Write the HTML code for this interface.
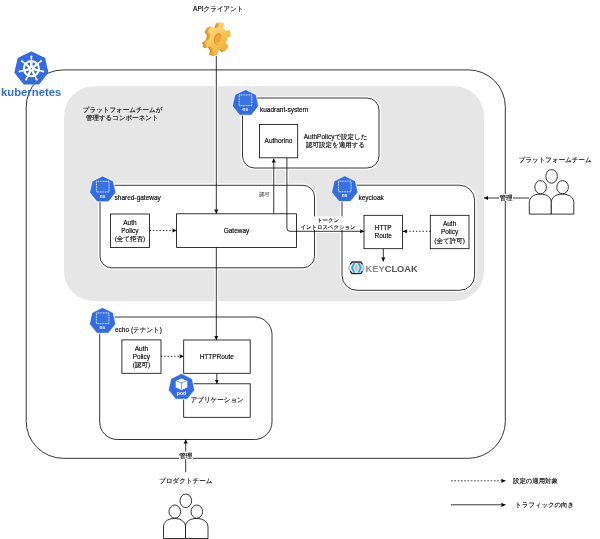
<!DOCTYPE html>
<html><head><meta charset="utf-8">
<style>
html,body{margin:0;padding:0;background:#fff;width:600px;height:539px;overflow:hidden}
svg{position:absolute;left:0;top:0;font-family:"Liberation Sans",sans-serif;will-change:transform}
text{font-family:"Liberation Sans",sans-serif;font-size:6.5px;fill:#000;stroke:#000;stroke-width:0.22px;stroke-opacity:0.6}
.c{text-anchor:middle}
.g{text-rendering:geometricPrecision}
.a{text-rendering:auto}
.ln{fill:none;stroke:#000;stroke-width:0.8}
.bx{fill:#fff;stroke:#000;stroke-width:0.8}
.halo{fill:none;stroke:#fff;stroke-width:3.6}
</style></head>
<body>
<svg width="600" height="539" viewBox="0 0 600 539">
<defs>
  <marker id="ah" viewBox="0 0 10 10" refX="10" refY="5" markerWidth="4.3" markerHeight="4.7" orient="auto-start-reverse" markerUnits="userSpaceOnUse" preserveAspectRatio="none">
    <path d="M0,0.5 L10,5 L0,9.5 L1.2,5 z" fill="#000"/>
  </marker>
  <g id="ns">
    <polygon points="0.00,-13.60 10.63,-8.48 13.26,3.03 5.90,12.25 -5.90,12.25 -13.26,3.03 -10.63,-8.48" fill="#fff" stroke="#fff" stroke-width="0.6" stroke-linejoin="round"/>
    <polygon points="0.00,-13.00 10.16,-8.11 12.67,2.89 5.64,11.71 -5.64,11.71 -12.67,2.89 -10.16,-8.11" fill="#326ce5" stroke="#326ce5" stroke-width="0.3" stroke-linejoin="round"/>
    <rect x="-6.3" y="-8.2" width="12.6" height="10.7" fill="#3a72e0" stroke="#fff" stroke-width="0.85" stroke-dasharray="1.05,0.6"/>
    <text x="-0.2" y="8.0" style="font-size:4.8px;font-weight:bold;fill:#fff;stroke:none;text-anchor:middle">ns</text>
  </g>
  <g id="people" fill="#fff" stroke="#000" stroke-width="0.8">
    <path d="M0,44.5 L0,33 C0,28 4,24.5 11,24.5 C18,24.5 22,28 22,33 L22,44.5 Z"/>
    <path d="M22,44.5 L22,33 C22,28 26,24.5 33,24.5 C40,24.5 44.5,28 44.5,33 L44.5,44.5 Z"/>
    <ellipse cx="22.3" cy="6.8" rx="5.8" ry="6.8"/>
    <ellipse cx="11.3" cy="17.6" rx="5.8" ry="6.6"/>
    <ellipse cx="33.3" cy="17.6" rx="5.8" ry="6.6"/>
  </g>
</defs>

<!-- API client -->
<text x="218.3" y="10.7" class="g c"><tspan class="a">API</tspan>クライアント</text>
<!-- gear -->
<defs>
 <linearGradient id="gg" x1="0" y1="0" x2="1" y2="1">
  <stop offset="0" stop-color="#ffe08a"/><stop offset="0.5" stop-color="#f7c553"/><stop offset="1" stop-color="#eca636"/>
 </linearGradient>
</defs>
<g transform="translate(218.4,38.6)">
<path transform="translate(-3.60,1.00) rotate(12) scale(0.86,1.16)" d="M-3.07,-9.73 L-2.73,-14.04 L2.73,-14.04 L3.07,-9.73 L6.89,-7.52 L10.79,-9.38 L13.52,-4.66 L9.96,-2.21 L9.96,2.21 L13.52,4.66 L10.79,9.38 L6.89,7.52 L3.07,9.73 L2.73,14.04 L-2.73,14.04 L-3.07,9.73 L-6.89,7.52 L-10.79,9.38 L-13.52,4.66 L-9.96,2.21 L-9.96,-2.21 L-13.52,-4.66 L-10.79,-9.38 L-6.89,-7.52 Z" fill="#d98a22"/>
<path transform="translate(-2.70,0.75) rotate(12) scale(0.86,1.16)" d="M-3.07,-9.73 L-2.73,-14.04 L2.73,-14.04 L3.07,-9.73 L6.89,-7.52 L10.79,-9.38 L13.52,-4.66 L9.96,-2.21 L9.96,2.21 L13.52,4.66 L10.79,9.38 L6.89,7.52 L3.07,9.73 L2.73,14.04 L-2.73,14.04 L-3.07,9.73 L-6.89,7.52 L-10.79,9.38 L-13.52,4.66 L-9.96,2.21 L-9.96,-2.21 L-13.52,-4.66 L-10.79,-9.38 L-6.89,-7.52 Z" fill="#e39a2c"/>
<path transform="translate(-1.80,0.50) rotate(12) scale(0.86,1.16)" d="M-3.07,-9.73 L-2.73,-14.04 L2.73,-14.04 L3.07,-9.73 L6.89,-7.52 L10.79,-9.38 L13.52,-4.66 L9.96,-2.21 L9.96,2.21 L13.52,4.66 L10.79,9.38 L6.89,7.52 L3.07,9.73 L2.73,14.04 L-2.73,14.04 L-3.07,9.73 L-6.89,7.52 L-10.79,9.38 L-13.52,4.66 L-9.96,2.21 L-9.96,-2.21 L-13.52,-4.66 L-10.79,-9.38 L-6.89,-7.52 Z" fill="#eaa533"/>
<path transform="translate(-0.90,0.25) rotate(12) scale(0.86,1.16)" d="M-3.07,-9.73 L-2.73,-14.04 L2.73,-14.04 L3.07,-9.73 L6.89,-7.52 L10.79,-9.38 L13.52,-4.66 L9.96,-2.21 L9.96,2.21 L13.52,4.66 L10.79,9.38 L6.89,7.52 L3.07,9.73 L2.73,14.04 L-2.73,14.04 L-3.07,9.73 L-6.89,7.52 L-10.79,9.38 L-13.52,4.66 L-9.96,2.21 L-9.96,-2.21 L-13.52,-4.66 L-10.79,-9.38 L-6.89,-7.52 Z" fill="#efb03c"/>
<path transform="rotate(12) scale(0.86,1.16)" d="M-3.07,-9.73 L-2.73,-14.04 L2.73,-14.04 L3.07,-9.73 L6.89,-7.52 L10.79,-9.38 L13.52,-4.66 L9.96,-2.21 L9.96,2.21 L13.52,4.66 L10.79,9.38 L6.89,7.52 L3.07,9.73 L2.73,14.04 L-2.73,14.04 L-3.07,9.73 L-6.89,7.52 L-10.79,9.38 L-13.52,4.66 L-9.96,2.21 L-9.96,-2.21 L-13.52,-4.66 L-10.79,-9.38 L-6.89,-7.52 Z" fill="url(#gg)"/>
<ellipse transform="rotate(14)" cx="-0.4" cy="0.4" rx="4.0" ry="5.9" fill="#df9530"/>
<ellipse transform="rotate(14)" cx="0.5" cy="0.9" rx="3.0" ry="4.8" fill="#f3bd4e"/>
<ellipse transform="rotate(14)" cx="-0.2" cy="0.1" rx="2.6" ry="4.3" fill="#e9a43a"/>
</g>

<!-- outer kubernetes rect -->
<rect x="26.2" y="69.9" width="479.1" height="388.4" rx="37" ry="37" class="ln"/>

<!-- gray platform area -->
<rect x="64" y="86.3" width="420" height="214.7" rx="30" ry="30" fill="#e6e6e6"/>
<text x="122.6" y="112" class="g c">プラットフォームチームが</text>
<text x="122.3" y="120.2" class="g c">管理するコンポーネント</text>

<!-- halos -->
<rect x="242.5" y="98" width="136.5" height="70" rx="12" ry="12" class="halo"/>
<rect x="100" y="185.3" width="214.5" height="82.5" rx="11.5" ry="11.5" class="halo"/>
<rect x="342" y="185.2" width="132.6" height="105.1" rx="15" ry="15" class="halo"/>
<path d="M216.3,84 L216.3,190 M273.75,160 L273.75,190 M286.9,160 L286.9,190 M216.3,262 L216.3,305 M310,231.3 L346,231.3" class="halo"/>
<!-- kuadrant-system -->
<rect x="242.5" y="98" width="136.5" height="70" rx="12" ry="12" class="bx"/>
<text x="260" y="111.9">kuadrant-system</text>
<rect x="259.4" y="124.4" width="38.3" height="33.4" class="bx"/>
<text x="278.5" y="143.4" class="c">Authorino</text>
<text x="335.6" y="139.4" class="g c"><tspan class="a">AuthPolicy</tspan>で設定した</text>
<text x="335.6" y="147.4" class="g c">認可設定を適用する</text>

<!-- shared-gateway -->
<rect x="100" y="185.3" width="214.5" height="82.5" rx="11.5" ry="11.5" class="bx"/>
<text x="114.6" y="200.4">shared-gateway</text>
<rect x="110.4" y="214" width="39" height="33.4" class="bx"/>
<text x="129.9" y="225.4" class="c">Auth</text>
<text x="129.9" y="233.2" class="c">Policy</text>
<text x="129.9" y="241.4" class="g c">(全て拒否)</text>
<rect x="176.6" y="213.8" width="119.9" height="33.6" class="bx"/>
<text x="236.5" y="232.9" class="c">Gateway</text>

<!-- keycloak -->
<rect x="342" y="185.2" width="132.6" height="105.1" rx="15" ry="15" class="bx"/>
<text x="358.5" y="199.9">keycloak</text>
<rect x="364" y="215.3" width="38.5" height="33.4" class="bx"/>
<text x="383.2" y="230.3" class="c">HTTP</text>
<text x="383.2" y="238.3" class="c">Route</text>
<rect x="430.3" y="215.3" width="38.7" height="33.4" class="bx"/>
<text x="449.6" y="225.7" class="c">Auth</text>
<text x="449.6" y="234.3" class="c">Policy</text>
<text x="449.6" y="243.1" class="g c">(全て許可)</text>
<!-- keycloak logo -->
<polygon points="348.4,267.8 351.8,261.6 361.2,261.6 364.2,267.8 361.2,274 351.8,274" fill="#ece4e2" stroke="#6a5e5c" stroke-width="0.5" stroke-linejoin="round"/>
<path d="M350.2,264.4 L352.1,262.1 L360.9,262.1 L362.4,264.4 M350.2,271.2 L352.1,273.5 L360.9,273.5 L362.4,271.2" fill="none" stroke="#231c1c" stroke-width="1.2" stroke-linejoin="round"/>
<polygon points="356.4,263.8 358.2,267.8 356.4,271.8 354.6,267.8" fill="#cbb9b5"/>
<path d="M354.4,262.9 L352.1,267.8 L354.4,272.7 M358.4,262.9 L360.7,267.8 L358.4,272.7" fill="none" stroke="#0bb6ee" stroke-width="1.9"/>
<text x="365.6" y="271.8" style="font-size:9.3px;font-weight:bold;fill:#8a8a8a;stroke:none">KEY<tspan style="fill:#555">CLOAK</tspan></text>

<!-- echo -->
<rect x="99.7" y="317" width="172.3" height="122.5" rx="17.5" ry="17.5" class="bx"/>
<text class="g" x="115" y="331.9"><tspan class="a">echo (</tspan>テナント<tspan class="a">)</tspan></text>
<rect x="121.9" y="339.9" width="39.1" height="33.4" class="bx"/>
<text x="141.4" y="350.8" class="c">Auth</text>
<text x="141.4" y="358.7" class="c">Policy</text>
<text x="141.4" y="367.2" class="g c">(認可)</text>
<rect x="183.7" y="340" width="66.5" height="33.3" class="bx"/>
<text x="216.8" y="358.7" class="c">HTTPRoute</text>
<rect x="183.7" y="383.8" width="66.5" height="33.5" class="bx"/>
<text x="217.2" y="402.4" class="g c">アプリケーション</text>

<!-- arrows -->
<path d="M216.3,56 L216.3,213.5" class="ln" marker-end="url(#ah)"/>
<path d="M216.3,247.4 L216.3,340" class="ln" marker-end="url(#ah)"/>
<path d="M273.75,213.8 L273.75,158.5" class="ln" marker-end="url(#ah)"/>
<path d="M286.9,158 L286.9,228.3 Q286.9,231.3 289.9,231.3 L364.2,231.3" class="ln" marker-end="url(#ah)"/>
<path d="M149.6,230.5 L176.6,230.5" class="ln" stroke-dasharray="1.3,2" style="stroke-width:0.9" marker-end="url(#ah)"/>
<path d="M430.5,231.3 L402.8,231.3" class="ln" stroke-dasharray="1.3,2" style="stroke-width:0.9" marker-end="url(#ah)"/>
<path d="M383.3,248.7 L383.3,261.5" class="ln" marker-end="url(#ah)"/>
<path d="M161,356.3 L183.7,356.3" class="ln" stroke-dasharray="1.3,2" style="stroke-width:0.9" marker-end="url(#ah)"/>
<path d="M216.8,373.3 L216.8,383.8" class="ln" marker-end="url(#ah)"/>
<path d="M185.7,472.3 L185.7,439.5" class="ln" marker-end="url(#ah)"/>
<path d="M529,198 L484,198" class="ln" marker-end="url(#ah)"/>

<!-- labels with white bg -->
<text x="264.5" y="196.4" class="g c" style="font-size:5.3px;stroke:none">認可</text>
<rect x="300" y="216.5" width="56" height="13.5" fill="#fff"/>
<text x="328" y="222.1" class="g c" style="font-size:5.4px">トークン</text>
<text x="328" y="228.8" class="g c" style="font-size:5.4px">イントロスペクション</text>
<rect x="499" y="194" width="14" height="7" fill="#fff"/>
<text x="506" y="200.4" class="g c">管理</text>
<rect x="179" y="451.5" width="14" height="7.5" fill="#fff"/>
<text x="185.7" y="457.7" class="g c">管理</text>

<!-- teams -->
<text x="555.2" y="162.4" class="g c">プラットフォームチーム</text>
<use href="#people" transform="translate(529.3,169.6)"/>
<text x="185.85" y="482.6" class="g c">プロダクトチーム</text>
<use href="#people" transform="translate(163.5,494)"/>

<!-- legend -->
<path d="M451,480.8 L505.5,480.8" class="ln" stroke-dasharray="1.7,1.6" style="stroke-width:0.9;stroke:#333" marker-end="url(#ah)"/>
<text class="g" x="513" y="483.1" style="font-size:6.4px">設定の適用対象</text>
<path d="M451,504.8 L505.5,504.8" class="ln" marker-end="url(#ah)"/>
<text class="g" x="515.3" y="506.8" style="font-size:6.4px">トラフィックの向き</text>

<!-- ns icons -->
<use href="#ns" transform="translate(245.5,103.1)"/>
<use href="#ns" transform="translate(102.75,189.5)"/>
<use href="#ns" transform="translate(344.75,189.3)"/>
<use href="#ns" transform="translate(102.6,321.1)"/>

<!-- pod icon -->
<g transform="translate(181.5,387.1)">
  <polygon points="0.00,-13.60 10.63,-8.48 13.26,3.03 5.90,12.25 -5.90,12.25 -13.26,3.03 -10.63,-8.48" fill="#fff" stroke="#fff" stroke-width="0.6" stroke-linejoin="round"/>
  <polygon points="0.00,-13.00 10.16,-8.11 12.67,2.89 5.64,11.71 -5.64,11.71 -12.67,2.89 -10.16,-8.11" fill="#326ce5" stroke="#326ce5" stroke-width="0.3" stroke-linejoin="round"/>
  <path d="M0,-8.6 L5.8,-6.1 L5.8,0.4 L0,2.9 L-5.8,0.4 L-5.8,-6.1 Z" fill="#fff"/>
  <path d="M-4.9,-5.6 L0,-4.6 L4.9,-5.6 M0,-4.6 L0,2.3" fill="none" stroke="#326ce5" stroke-width="0.65"/>
  <text x="0" y="7.9" style="font-size:5.2px;font-weight:bold;fill:#fff;stroke:none;text-anchor:middle">pod</text>
</g>

<!-- kubernetes logo -->
<g transform="translate(31.4,68.7)">
  <polygon points="0.00,-16.60 12.98,-10.35 16.18,3.69 7.20,14.96 -7.20,14.96 -16.18,3.69 -12.98,-10.35" fill="#326ce5" stroke="#326ce5" stroke-width="1.6" stroke-linejoin="round"/>
  <g stroke="#fff" fill="none">
    <circle r="7.6" stroke-width="2.1"/>
    <path d="M0.00,-1.80 L0.00,-12.30 M1.41,-1.12 L9.62,-7.67 M1.75,0.40 L11.99,2.74 M0.78,1.62 L5.34,11.08 M-0.78,1.62 L-5.34,11.08 M-1.75,0.40 L-11.99,2.74 M-1.41,-1.12 L-9.62,-7.67" stroke-width="1.5" stroke-linecap="round"/>
    <path d="M0.00,-1.80 L0.00,-7 M1.41,-1.12 L5.4,-4.3 M1.75,0.40 L6.7,1.55 M0.78,1.62 L3,6.2 M-0.78,1.62 L-3,6.2 M-1.75,0.40 L-6.7,1.55 M-1.41,-1.12 L-5.4,-4.3" stroke-width="2.2" stroke-linecap="butt"/>
    <circle r="1.9" fill="#fff" stroke="none"/>
    <circle r="0.8" fill="#326ce5" stroke="none"/>
  </g>
  <g fill="#fff"><circle cx="0.00" cy="-12.10" r="1.0"/><circle cx="9.46" cy="-7.54" r="1.0"/><circle cx="11.80" cy="2.69" r="1.0"/><circle cx="5.25" cy="10.90" r="1.0"/><circle cx="-5.25" cy="10.90" r="1.0"/><circle cx="-11.80" cy="2.69" r="1.0"/><circle cx="-9.46" cy="-7.54" r="1.0"/></g>
</g>
<text x="1" y="96.3" style="font-size:11.3px;font-weight:bold;fill:#326ce5;stroke:none">kubernetes</text>
</svg>
</body></html>
